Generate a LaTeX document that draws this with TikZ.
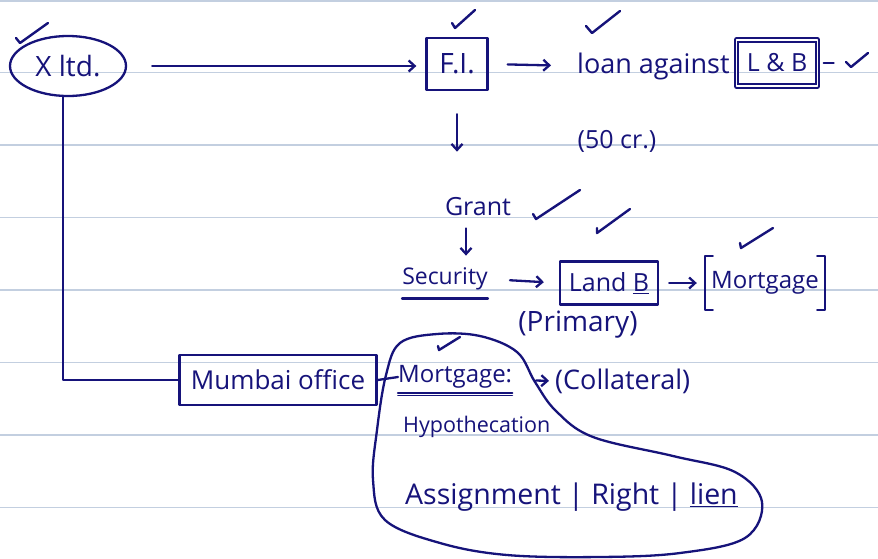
\documentclass[tikz,border=0pt]{standalone}
\usepackage{fontspec}
\setmainfont{Open Sans}
\usetikzlibrary{arrows.meta,shapes.geometric}
\definecolor{ink}{HTML}{16137A}
\definecolor{rule}{HTML}{C3CFE0}
\newcommand\fs[1]{\fontsize{#1}{#1}\selectfont}
\tikzset{
  ink/.style={draw=ink,line width=2.3pt,line cap=round,line join=round},
  arr/.style={ink,-{Straight Barb[length=6pt,width=11pt,line width=2.3pt]}},
  tickmark/.style={ink,line width=2.4pt},
  txt/.style={text=ink,inner sep=0pt},
  boxed/.style={txt,ink,inner xsep=6pt,inner ysep=6pt},
  paper/.style={draw=rule,line width=1.4pt}
}
\begin{document}
\begin{tikzpicture}[x=1pt,y=-1pt]
\useasboundingbox (0,0) rectangle (878,558);
\fill[white] (0,0) rectangle (878,558);
\foreach \yy in {1,72.5,145,217.5,290,362.5,435,507.5}
  \draw[paper] (0,\yy) -- (878,\yy);

% nodes
\node[txt,ink,ellipse,minimum width=116pt,minimum height=60pt,font=\fs{28}] (xltd) at (68,66) {X ltd.};
\node[boxed,minimum width=61pt,minimum height=52pt,font=\fs{28}] (fi) at (457,64) {F.I.};
\node[txt,anchor=west,font=\fs{27}] (loan) at (577,66) {loan against};
\node[boxed,minimum width=81pt,minimum height=46pt,double,double distance=1.2pt,font=\fs{25}] (lb) at (777,63) {L \& B};
\node[txt,font=\fs{25}] (cr) at (617,141) {(50 cr.)};
\node[txt,font=\fs{25}] (grant) at (478,207) {Grant};
\node[txt,font=\fs{23}] (sec) at (445,279) {Security};
\node[boxed,minimum width=98pt,minimum height=43pt,font=\fs{25}] (landb) at (609,283) {Land \underline{B}};
\node[txt,minimum width=120pt,minimum height=54pt,font=\fs{24}] (mort) at (765,283) {Mortgage};
\node[txt,font=\fs{28}] (prim) at (578,325) {(Primary)};
\node[boxed,minimum width=197pt,minimum height=50pt,font=\fs{26}] (mumbai) at (278,380) {Mumbai office};
\node[txt,anchor=west,font=\fs{24}] (mortg) at (398,377) {Mortgage:};
\node[txt,font=\fs{27},anchor=west] (coll) at (555,381) {(Collateral)};
\node[txt,font=\fs{21.5},anchor=west] (hyp) at (403,427) {Hypothecation};
\node[txt,font=\fs{28.5},anchor=west] (assign) at (405,497) {Assignment | Right | \underline{lien}};

% brackets round Mortgage
\draw[ink] ([xshift=8pt]mort.north west) -- (mort.north west) -- (mort.south west) -- ([xshift=8pt]mort.south west);
\draw[ink] ([xshift=-8pt]mort.north east) -- (mort.north east) -- (mort.south east) -- ([xshift=-8pt]mort.south east);

% underlines
\draw[ink] ([yshift=-8pt]sec.south west) -- ([yshift=-8pt]sec.south east);
\draw[ink] ([yshift=-4pt]mortg.south west) -- ([yshift=-4pt]mortg.south east);
\draw[ink,line width=1.6pt] ([yshift=-7pt]mortg.south west) -- ([yshift=-7pt]mortg.south east);

% connectors
\draw[arr,shorten <=25pt,shorten >=9pt] (xltd.east) -- (fi.west |- xltd.east);
\draw[arr,shorten <=19pt,shorten >=26pt] (fi.east) -- (loan.west);
\draw[arr,shorten <=23pt,shorten >=46pt] (fi.south) -- (grant.north -| fi.south);
\draw[arr,shorten <=12pt,shorten >=12pt] ([xshift=-12pt]grant.south) -- ([xshift=-12pt]grant.south |- sec.north);
\draw[arr,shorten <=22pt,shorten >=15pt] (sec.east) -- (landb.west);
\draw[arr,shorten <=10pt,shorten >=8pt] (landb.east) -- (mort.west);
\draw[ink] ([xshift=-5pt]xltd.south) |- (mumbai.west);
\draw[ink] (mumbai.east) -- (mortg.west);
\draw[arr,shorten <=138pt,shorten >=6pt] (mortg.west) -- (coll.west);
\draw[ink,shorten <=5pt] (lb.east) -- ([xshift=15pt]lb.east);

% enclosing loop
\draw[ink] plot[smooth cycle,tension=0.6] coordinates {(400,343) (437,334) (480,336) (517,352) (535,382) (556,411) (593,437) (673,456) (735,472) (762,502) (745,538) (680,553) (600,557) (507,555) (440,543) (385,520) (373,480) (377,430) (386,375)};

% ticks
\draw[tickmark] (16,38) -- (20,43) -- (48,23);
\draw[tickmark] (452,23) -- (455,28) -- (475,10);
\draw[tickmark] (586,26) -- (592,33) -- (620,11);
\draw[tickmark] (846,62) -- (851,67) -- (868,53);
\draw[tickmark] (533,214) -- (536,219) -- (580,190);
\draw[tickmark] (597,228) -- (597,233) -- (630,209);
\draw[tickmark] (740,243) -- (741,248) -- (773,228);
\draw[tickmark] (438,346) -- (439,350) -- (460,337);
\end{tikzpicture}
\end{document}
